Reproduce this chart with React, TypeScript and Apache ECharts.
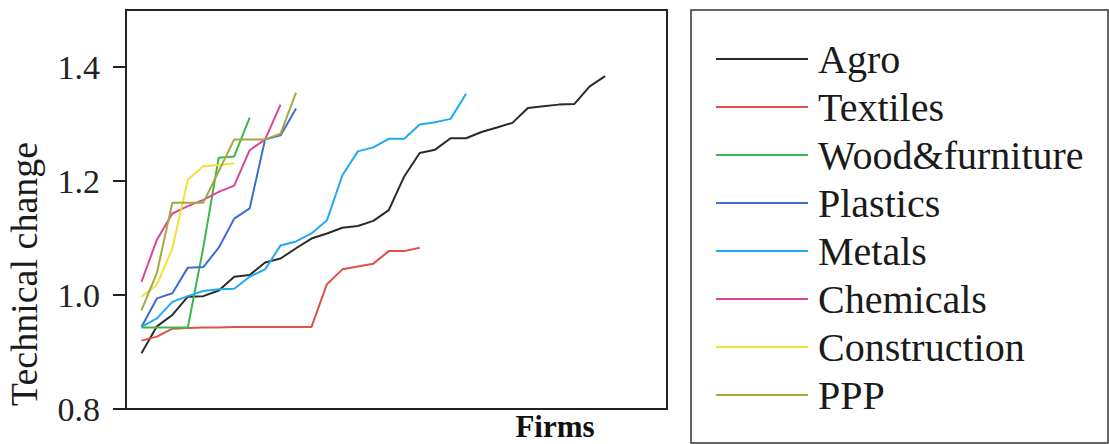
import React, { useEffect, useRef } from "react";
import * as echarts from "echarts";

// Technical change by firm (firms ranked)
const agro = [0.898, 0.945, 0.965, 0.997, 0.998, 1.008, 1.032, 1.035, 1.057, 1.064, 1.082, 1.099, 1.108, 1.118, 1.121, 1.13, 1.149, 1.208, 1.249, 1.255, 1.275, 1.275, 1.286, 1.294, 1.302, 1.328, 1.331, 1.334, 1.335, 1.366, 1.384];
const textiles = [0.92, 0.927, 0.941, 0.942, 0.943, 0.943, 0.944, 0.944, 0.944, 0.944, 0.944, 0.944, 1.019, 1.045, 1.05, 1.055, 1.077, 1.077, 1.083];
const wood = [0.943, 0.943, 0.943, 0.943, 1.083, 1.241, 1.243, 1.311];
const plastics = [0.944, 0.994, 1.003, 1.048, 1.049, 1.083, 1.134, 1.152, 1.273, 1.28, 1.327];
const metals = [0.944, 0.959, 0.988, 0.998, 1.007, 1.01, 1.011, 1.032, 1.045, 1.087, 1.094, 1.108, 1.131, 1.21, 1.252, 1.259, 1.274, 1.274, 1.299, 1.303, 1.309, 1.353];
const chemicals = [1.023, 1.097, 1.143, 1.156, 1.167, 1.181, 1.192, 1.254, 1.273, 1.334];
const construction = [0.997, 1.018, 1.082, 1.202, 1.226, 1.228, 1.231];
const ppp = [0.973, 1.039, 1.162, 1.162, 1.162, 1.217, 1.273, 1.273, 1.273, 1.283, 1.355];

const seriesNames = ["Agro", "Textiles", "Wood&furniture", "Plastics", "Metals", "Chemicals", "Construction", "PPP"];
const seriesValues = [agro, textiles, wood, plastics, metals, chemicals, construction, ppp];
const seriesColors = ["#2a2a2a", "#e0504a", "#3cb84a", "#3a6fd0", "#22aaf0", "#d9479d", "#f2e23a", "#a8a840"];
const yTicks = [0.8, 1.0, 1.2, 1.4];

const SERIF = "'Liberation Serif', 'Times New Roman', serif";

export default function App() {
  const ref = useRef<HTMLDivElement>(null);
  useEffect(() => {
    if (!ref.current) return;
    const chart = echarts.init(ref.current, null, { renderer: "svg" });
    chart.setOption({
      animation: false,
      backgroundColor: "#ffffff",
      grid: {
        left: 126,
        top: 10,
        right: 442,
        bottom: 35,
        show: true,
        borderColor: "#222",
        borderWidth: 2,
        backgroundColor: "transparent",
      },
      xAxis: {
        type: "value",
        min: 0,
        max: 35,
        axisLine: { show: false },
        axisTick: { show: false },
        axisLabel: { show: false },
        splitLine: { show: false },
      },
      yAxis: {
        type: "value",
        min: 0.8,
        max: 1.5,
        axisLine: { show: true, lineStyle: { color: "#222", width: 2 } },
        axisTick: {
          show: true,
          inside: false,
          length: 13,
          lineStyle: { color: "#222", width: 2 },
          customValues: yTicks,
        },
        axisLabel: {
          margin: 26,
          color: "#222",
          fontFamily: SERIF,
          fontSize: 34,
          customValues: yTicks,
          formatter: (v: number) => v.toFixed(1),
        },
        splitLine: { show: false },
      },
      legend: {
        orient: "vertical",
        left: 716,
        top: 39,
        padding: 0,
        itemWidth: 92,
        itemHeight: 2,
        itemGap: 8,
        icon: "rect",
        selectedMode: false,
        textStyle: {
          fontFamily: SERIF,
          fontSize: 40,
          lineHeight: 40,
          color: "#1a1a1a",
          padding: [0, 0, 0, 5],
        },
        data: seriesNames,
      },
      graphic: [
        {
          type: "rect",
          shape: { x: 691, y: 10, width: 417, height: 433 },
          style: { fill: "none", stroke: "#333", lineWidth: 1.5 },
          silent: true,
        },
        {
          type: "text",
          x: 24,
          y: 274,
          rotation: Math.PI / 2,
          style: {
            text: "Technical change",
            font: `38px ${SERIF}`,
            fill: "#1a1a1a",
            align: "center",
            verticalAlign: "middle",
          },
        },
        {
          type: "text",
          x: 555,
          y: 426,
          style: {
            text: "Firms",
            font: `bold 31px ${SERIF}`,
            fill: "#111",
            align: "center",
            verticalAlign: "middle",
          },
        },
      ],
      series: seriesNames.map((name, i) => ({
        name,
        type: "line",
        showSymbol: false,
        symbol: "none",
        color: seriesColors[i],
        lineStyle: { color: seriesColors[i], width: 2 },
        data: seriesValues[i].map((v, k) => [k + 1, v]),
      })),
    });
    return () => chart.dispose();
  }, []);
  return <div ref={ref} style={{ width: 1109, height: 444, position: "absolute", left: 0, top: 0 }} />;
}
